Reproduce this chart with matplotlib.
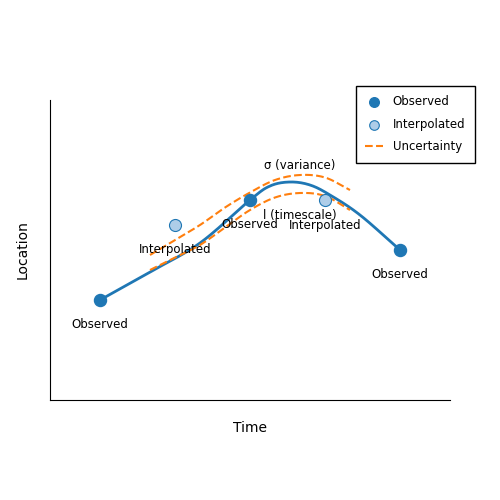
import numpy as np
import matplotlib.pyplot as plt

obs_x = [1, 4, 7]
obs_y = [2, 4, 3]
interp_x = [2.5, 5.5]
interp_y = [3.5, 4]

curve_x = [1, 2, 3, 4, 4.4, 4.8, 5.2, 5.6, 6.2, 7]
curve_y = [2, 2.56, 3.14, 4, 4.28, 4.36, 4.3, 4.1, 3.7, 3]
upper_x = [2, 2.5, 3, 3.5, 4, 4.5, 5, 5.5, 6]
upper_y = [2.9, 3.2, 3.5, 3.85, 4.15, 4.4, 4.5, 4.45, 4.2]
lower_x = [2, 2.5, 3, 3.5, 4, 4.5, 5, 5.5, 6]
lower_y = [2.6, 2.85, 3.1, 3.45, 3.8, 4.05, 4.14, 4.08, 3.8]


def smooth(px, py, n=20):
    # Catmull-Rom through the read points
    p = np.column_stack([px, py]).astype(float)
    p = np.vstack([2 * p[0] - p[1], p, 2 * p[-1] - p[-2]])
    out = []
    t = np.linspace(0, 1, n, endpoint=False)[:, None]
    for i in range(1, len(p) - 2):
        p0, p1, p2, p3 = p[i - 1], p[i], p[i + 1], p[i + 2]
        out.append(0.5 * (2 * p1 + (-p0 + p2) * t + (2 * p0 - 5 * p1 + 4 * p2 - p3) * t ** 2
                          + (-p0 + 3 * p1 - 3 * p2 + p3) * t ** 3))
    out.append(p[-2][None, :])
    out = np.vstack(out)
    return out[:, 0], out[:, 1]


fig = plt.figure(figsize=(5, 5), dpi=100)
ax = fig.add_axes([0.1, 0.2, 0.8, 0.6])

ax.plot(*smooth(curve_x, curve_y), color='#1f77b4', lw=2)
ax.plot(*smooth(upper_x, upper_y), '--', color='#ff7f0e', lw=1.5, label='Uncertainty')
ax.plot(*smooth(lower_x, lower_y), '--', color='#ff7f0e', lw=1.5)

ax.scatter(obs_x, obs_y, s=75, color='#1f77b4', zorder=3, label='Observed')
ax.scatter(interp_x, interp_y, s=75, color='#aecde8', edgecolor='#1f77b4', lw=0.8,
           zorder=3, label='Interpolated')

fs = 8.5
for x, y in zip(obs_x, obs_y):
    ax.text(x, y - 0.5, 'Observed', ha='center', va='center', fontsize=fs)
for x, y in zip(interp_x, interp_y):
    ax.text(x, y - 0.5, 'Interpolated', ha='center', va='center', fontsize=fs)
ax.text(5, 4.7, 'σ (variance)', ha='center', va='center', fontsize=fs)
ax.text(5, 3.7, 'l (timescale)', ha='center', va='center', fontsize=fs)

ax.set_xlim(0, 8)
ax.set_ylim(0, 6)
ax.set_xticks([])
ax.set_yticks([])
ax.spines['top'].set_visible(False)
ax.spines['right'].set_visible(False)
ax.set_xlabel('Time', fontsize=10, labelpad=15)
ax.set_ylabel('Location', fontsize=10, labelpad=15)

h, l = ax.get_legend_handles_labels()
order = [1, 2, 0]
fig.legend([h[i] for i in order], [l[i] for i in order], loc='upper left',
           bbox_to_anchor=(0.70, 0.84), fontsize=fs, fancybox=False,
           edgecolor='black', framealpha=1, markerscale=0.8,
           labelspacing=0.8, borderpad=0.8, handlelength=1.5)

fig.savefig('out.png', dpi=100)
